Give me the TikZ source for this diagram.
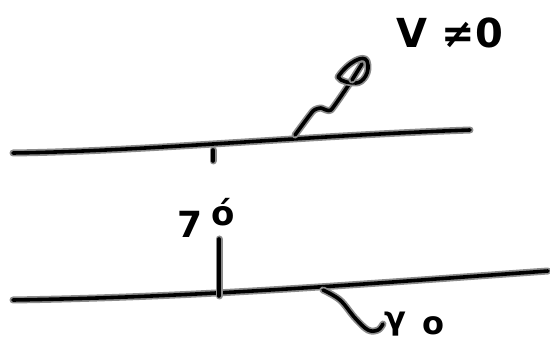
\documentclass[tikz,border=0pt]{standalone}
\usepackage{fontspec}
\setmainfont{DejaVu Sans}
\begin{document}
\begin{tikzpicture}[x=1pt,y=-1pt,
  sketch/.style={line width=3.6pt, black, line cap=round, line join=round,
    preaction={draw, black!45, line width=7pt, line cap=round, line join=round}},
  hand/.style={inner sep=0pt, font=\bfseries}]
\useasboundingbox (0,0) rectangle (550,344);
% top line
\coordinate (t1) at (13,153);
\coordinate (t2) at (470,130);
\draw[sketch] (t1) .. controls (150,151) and (300,136) .. (t2);
% tick
\coordinate (k1) at (213,150);
\coordinate (k2) at (213,161);
\draw[sketch] (k1) -- (k2);
% bottom line
\coordinate (b1) at (13,300);
\coordinate (b2) at (548,271);
\draw[sketch] (b1) .. controls (200,297) and (350,285) .. (b2);
% vertical line
\coordinate (v1) at (219,296);
\coordinate (v2) at (219,239);
\draw[sketch] (v1) -- (v2);
% wavy arrow
\coordinate (w0) at (295,135);
\coordinate (w4) at (352,80);
\draw[sketch] plot[smooth, tension=0.3] coordinates {(w0) (313,111) (321,108) (331,110) (w4)};
\draw[sketch] (338,77) .. controls (348,62) and (364,54) .. (367,61)
  .. controls (371,72) and (363,83) .. (356,83)
  .. controls (350,83) and (341,82) .. (338,77) -- cycle;
\draw[sketch] (w4) -- (362,64);
% bottom wave
\coordinate (g0) at (323,290);
\coordinate (g1) at (383,324);
\draw[sketch] plot[smooth, tension=0.6] coordinates {(g0) (340,300) (355,318) (368,330) (378,330) (g1)};
% labels
\node[hand, font=\fontsize{40}{40}\selectfont\bfseries] (vt) at (450,33) {V ≠0};
\node[hand, font=\fontsize{36}{36}\selectfont\bfseries] (m1) at (190,224) {7};
\node[hand, font=\fontsize{34}{34}\selectfont\bfseries] (m2) at (223,212) {ó};
\node[hand, font=\fontsize{32}{32}\selectfont\bfseries] (y1) at (395,324) {γ};
\node[hand, font=\fontsize{32}{32}\selectfont\bfseries] (y2) at (433,326) {o};
\end{tikzpicture}
\end{document}
